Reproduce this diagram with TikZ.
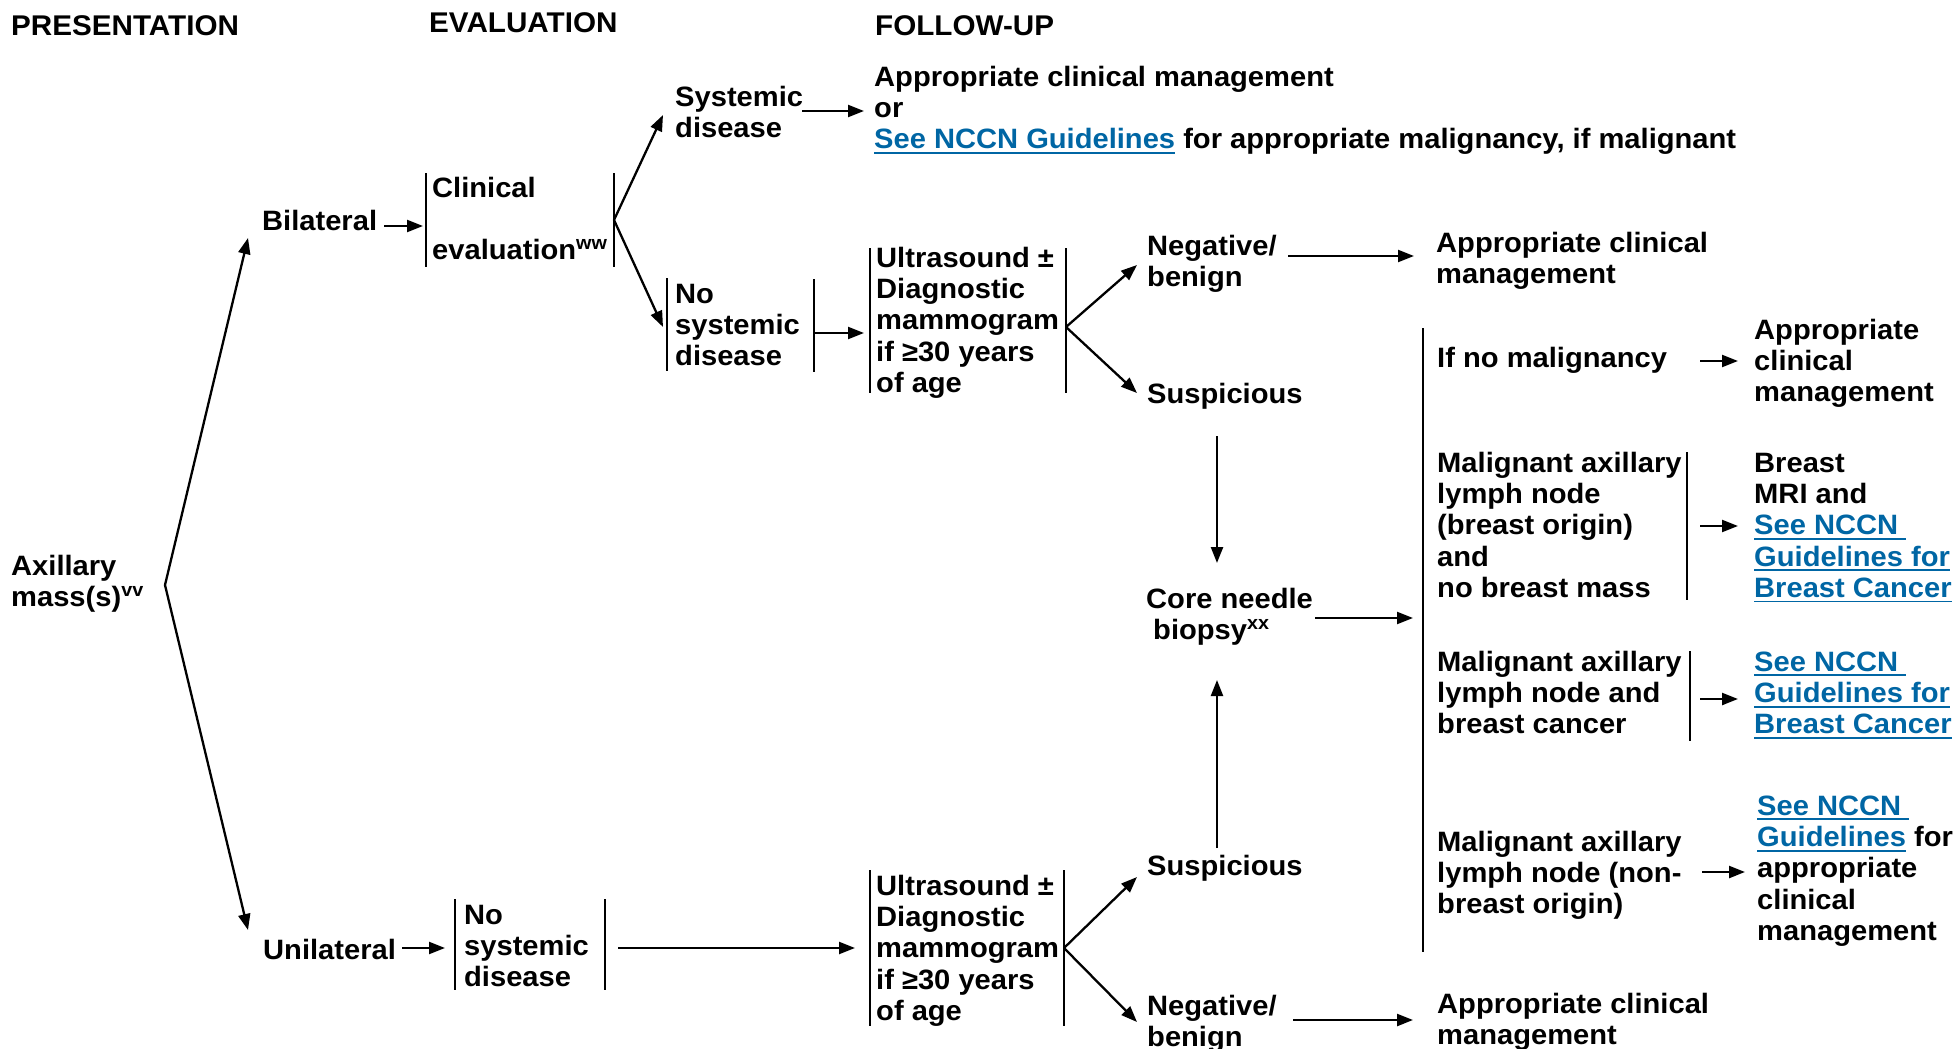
\documentclass[tikz,border=0pt]{standalone}
\usepackage{fontspec}
\setmainfont{Liberation Sans}[FakeStretch=1.04]
\usetikzlibrary{arrows.meta}
\definecolor{nccn}{RGB}{0,102,164}
\newcommand\bodyf{\fontsize{28}{31.3}\selectfont\bfseries}
\newcommand\headf{\fontsize{28.5}{31}\selectfont\bfseries}
\newcommand\fs{\rule{0pt}{24pt}}
\newcommand\lnk[1]{{\color{nccn}\setbox0\hbox{#1}\rlap{\rule[-5pt]{\wd0}{1.8pt}}\box0}}
\newcommand\supr[1]{\raisebox{10pt}{\fontsize{19}{19}\selectfont #1}}
\begin{document}
\begin{tikzpicture}[x=1pt,y=-1pt,
  t/.style={anchor=north west,inner sep=0pt,align=left,font=\bodyf},
  hd/.style={anchor=north west,inner sep=0pt,font=\headf},
  arr/.style={line width=2.3pt,-{Triangle[length=16pt,width=12pt]}},
  brk/.style={line width=2.6pt}]
\useasboundingbox (0,0) rectangle (1957,1049);

% headers
\node[hd] (hP) at (11,11) {\fs PRESENTATION};
\node[hd] (hE) at (429,8) {\fs EVALUATION};
\node[hd] (hF) at (875,11) {\fs FOLLOW-UP};

% text nodes
\node[t] (ax) at (11,551) {\fs Axillary\\mass(s)\supr{vv}};
\node[t] (bil) at (262,206) {\fs Bilateral};
\node[t] (uni) at (263,935) {\fs Unilateral};
\node[t] (clin) at (432,173) {\fs Clinical\\ \mbox{}\\evaluation\supr{ww}};
\node[t] (sys) at (675,82) {\fs Systemic\\disease};
\node[t] (appr1) at (874,62) {\fs Appropriate clinical management\\or\\\lnk{See NCCN Guidelines} for appropriate malignancy, if malignant};
\node[t] (nosysA) at (675,279) {\fs No\\systemic\\disease};
\node[t] (usA) at (876,243) {\fs Ultrasound ±\\Diagnostic\\mammogram\\if ≥30 years\\of age};
\node[t] (negA) at (1147,231) {\fs Negative/\\benign};
\node[t] (suspA) at (1147,379) {\fs Suspicious};
\node[t] (amA) at (1436,228) {\fs Appropriate clinical\\management};
\node[t] (core) at (1146,584) {\fs Core needle\\\hspace*{7pt}biopsy\supr{xx}};
\node[t] (nomal) at (1437,343) {\fs If no malignancy};
\node[t] (amB) at (1754,315) {\fs Appropriate\\clinical\\management};
\node[t] (malA) at (1437,448) {\fs Malignant axillary\\lymph node\\(breast origin)\\and\\no breast mass};
\node[t] (brA) at (1754,448) {\fs Breast\\MRI and\\\lnk{See NCCN\ }\\\lnk{Guidelines for}\\\lnk{Breast Cancer}};
\node[t] (malB) at (1437,647) {\fs Malignant axillary\\lymph node and\\breast cancer};
\node[t] (brB) at (1754,647) {\fs \lnk{See NCCN\ }\\\lnk{Guidelines for}\\\lnk{Breast Cancer}};
\node[t] (malC) at (1437,827) {\fs Malignant axillary\\lymph node (non-\\breast origin)};
\node[t] (nbC) at (1757,791) {\fs \lnk{See NCCN\ }\\\lnk{Guidelines} for\\appropriate\\clinical\\management};
\node[t] (amC) at (1437,989) {\fs Appropriate clinical\\management};
\node[t] (suspB) at (1147,851) {\fs Suspicious};
\node[t] (negB) at (1147,991) {\fs Negative/\\benign};
\node[t] (usB) at (876,871) {\fs Ultrasound ±\\Diagnostic\\mammogram\\if ≥30 years\\of age};
\node[t] (nosysB) at (464,900) {\fs No\\systemic\\disease};

% bracket bars
\draw[brk] (426,173) -- (426,267);
\draw[brk] (614,173) -- (614,267);
\draw[brk] (667,278) -- (667,371);
\draw[brk] (814,279) -- (814,372);
\draw[brk] (870,248) -- (870,393);
\draw[brk] (1066,248) -- (1066,393);
\draw[brk] (1423,328) -- (1423,952);
\draw[brk] (1687,452) -- (1687,600);
\draw[brk] (1690,651) -- (1690,741);
\draw[brk] (455,899) -- (455,990);
\draw[brk] (605,899) -- (605,990);
\draw[brk] (870,870) -- (870,1026);
\draw[brk] (1064,870) -- (1064,1026);

% connector points
\coordinate (axV) at (165,585);
\coordinate (bilT) at (248,238);
\coordinate (uniT) at (248,930);
\coordinate (bilR) at (384,226);
\coordinate (clinL) at (423,226);
\coordinate (clinV) at (614,220);
\coordinate (sysT) at (663,115);
\coordinate (nosysAT) at (663,327);
\coordinate (sysR) at (802,111);
\coordinate (appr1L) at (864,111);
\coordinate (nosysAR) at (814,333);
\coordinate (usAL) at (864,333);
\coordinate (usAV) at (1066,327);
\coordinate (negAT) at (1137,265);
\coordinate (suspAT) at (1137,393);
\coordinate (negAR) at (1288,256);
\coordinate (amAL) at (1414,256);
\coordinate (suspAB) at (1217,436);
\coordinate (coreT) at (1217,563);
\coordinate (suspBT) at (1217,848);
\coordinate (coreB) at (1217,680);
\coordinate (coreR) at (1315,618);
\coordinate (bigL) at (1413,618);
\coordinate (nomalR) at (1700,361);
\coordinate (amBL) at (1738,361);
\coordinate (malAR) at (1700,526);
\coordinate (brAL) at (1738,526);
\coordinate (malBR) at (1700,699);
\coordinate (brBL) at (1738,699);
\coordinate (malCR) at (1702,872);
\coordinate (nbCL) at (1745,872);
\coordinate (uniR) at (402,948);
\coordinate (nosysBL) at (445,948);
\coordinate (nosysBR) at (618,948);
\coordinate (usBL) at (855,948);
\coordinate (usBV) at (1064,948);
\coordinate (suspBL) at (1137,877);
\coordinate (negBL) at (1137,1022);
\coordinate (negBR) at (1293,1020);
\coordinate (amCL) at (1413,1020);

% connectors
\draw[arr] (axV) -- (bilT);
\draw[arr] (axV) -- (uniT);
\draw[arr] (bilR) -- (clinL);
\draw[arr] (clinV) -- (sysT);
\draw[arr] (clinV) -- (nosysAT);
\draw[arr] (sysR) -- (appr1L);
\draw[arr] (nosysAR) -- (usAL);
\draw[arr] (usAV) -- (negAT);
\draw[arr] (usAV) -- (suspAT);
\draw[arr] (negAR) -- (amAL);
\draw[arr] (suspAB) -- (coreT);
\draw[arr] (suspBT) -- (coreB);
\draw[arr] (coreR) -- (bigL);
\draw[arr] (nomalR) -- (amBL);
\draw[arr] (malAR) -- (brAL);
\draw[arr] (malBR) -- (brBL);
\draw[arr] (malCR) -- (nbCL);
\draw[arr] (uniR) -- (nosysBL);
\draw[arr] (nosysBR) -- (usBL);
\draw[arr] (usBV) -- (suspBL);
\draw[arr] (usBV) -- (negBL);
\draw[arr] (negBR) -- (amCL);
\end{tikzpicture}
\end{document}
